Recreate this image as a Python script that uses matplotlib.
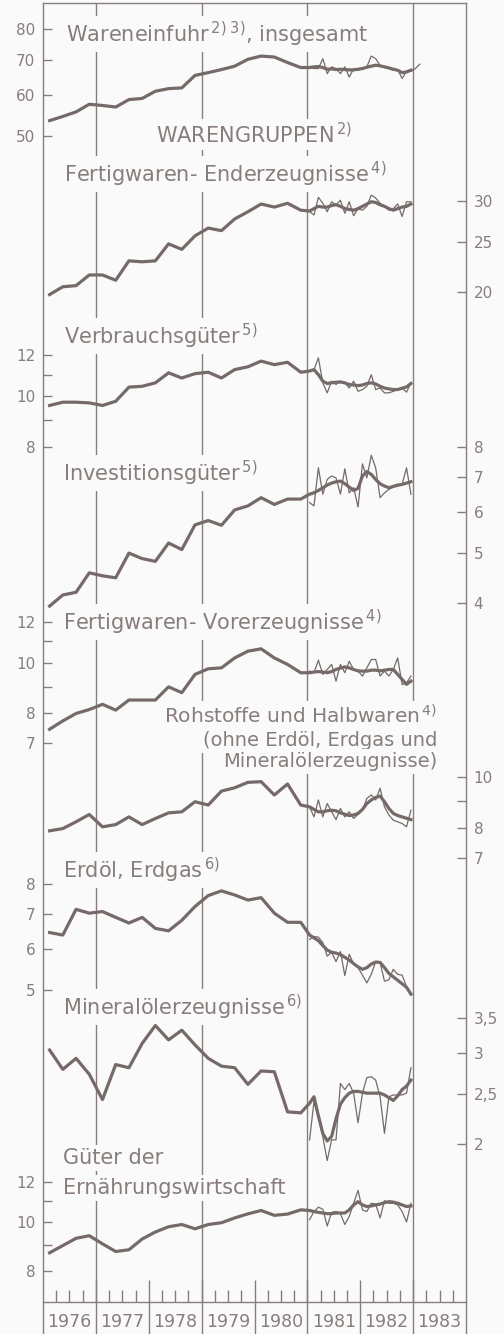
import numpy as np
import matplotlib
matplotlib.use("Agg")
import matplotlib.pyplot as plt
from matplotlib.ticker import FixedLocator, FixedFormatter, NullFormatter

# ---- data (log scale index values) ----
years = [1976, 1977, 1978, 1979, 1980, 1981, 1982, 1983]

# quarterly values 1976 Q1 ... 1980 Q4 (thick line)
q_total = [53.5, 54.5, 55.6, 57.5, 57.2, 56.8, 58.7, 59.0, 60.9, 61.6,
           61.8, 65.3, 66.1, 67.0, 68.0, 70.1, 71.1, 70.8, 69.1, 67.6]
q_endp = [19.8, 20.5, 20.6, 21.6, 21.6, 21.1, 23.0, 22.9, 23.0, 24.8,
          24.2, 25.7, 26.6, 26.3, 27.7, 28.6, 29.6, 29.2, 29.7, 28.8]
q_cons = [9.60, 9.74, 9.74, 9.71, 9.60, 9.78, 10.41, 10.45, 10.61, 11.09,
          10.84, 11.05, 11.12, 10.84, 11.25, 11.39, 11.68, 11.50, 11.62, 11.12]
q_inv = [3.94, 4.14, 4.19, 4.57, 4.51, 4.47, 4.99, 4.87, 4.81, 5.22,
         5.07, 5.66, 5.77, 5.65, 6.05, 6.16, 6.39, 6.20, 6.35, 6.35]
q_inter = [7.45, 7.73, 7.99, 8.13, 8.32, 8.11, 8.48, 8.48, 8.48, 8.99,
           8.76, 9.50, 9.74, 9.78, 10.22, 10.53, 10.64, 10.22, 9.93, 9.57]
q_raw = [7.90, 7.98, 8.22, 8.49, 8.04, 8.12, 8.40, 8.12, 8.34, 8.55,
         8.59, 8.98, 8.85, 9.41, 9.55, 9.78, 9.81, 9.25, 9.71, 8.85]
q_oil = [6.45, 6.38, 7.15, 7.03, 7.08, 6.90, 6.73, 6.90, 6.57, 6.50,
         6.81, 7.24, 7.60, 7.76, 7.62, 7.45, 7.53, 7.03, 6.75, 6.75]
q_petro = [3.04, 2.79, 2.93, 2.73, 2.44, 2.85, 2.81, 3.13, 3.39, 3.18,
           3.32, 3.11, 2.93, 2.83, 2.81, 2.61, 2.77, 2.76, 2.31, 2.30]
q_food = [8.69, 8.98, 9.28, 9.39, 9.05, 8.74, 8.81, 9.25, 9.55, 9.78,
          9.88, 9.69, 9.88, 9.96, 10.18, 10.37, 10.53, 10.30, 10.36, 10.56]

# monthly 1981-1982: smoothed (thick) and single months (thin)
m_total = [67.6, 67.8, 67.9, 67.6, 67.1, 67.2, 67.0, 67.1, 67.0, 66.9, 66.9, 67.1,
           67.3, 67.7, 68.0, 68.3, 68.1, 67.8, 67.5, 67.1, 66.8, 66.1, 66.3, 66.8]
t_total = [67.8, 67.3, 67.3, 70.3, 65.8, 67.8, 67.3, 65.8, 67.8, 64.8, 67.3, 66.8,
           67.3, 67.8, 71.1, 70.3, 68.3, 67.8, 67.3, 66.8, 67.0, 64.4, 66.5, 66.5,
           67.3, 68.6]  # runs into Feb 1983
m_endp = [28.7, 29.0, 29.3, 29.2, 29.2, 29.4, 29.5, 29.3, 29.0, 28.9, 28.8, 29.0,
          29.3, 29.6, 29.9, 29.8, 29.5, 29.3, 29.0, 28.8, 29.0, 29.2, 29.3, 29.6]
t_endp = [28.6, 28.2, 30.5, 29.7, 28.6, 29.9, 29.5, 30.1, 28.4, 29.9, 28.1, 29.0,
          28.8, 29.3, 30.8, 30.4, 29.7, 29.3, 28.8, 29.0, 29.6, 28.0, 29.9, 29.9]
m_cons = [11.18, 11.25, 11.0, 10.69, 10.58, 10.61, 10.64, 10.65, 10.61, 10.53, 10.51, 10.48,
          10.51, 10.58, 10.61, 10.56, 10.45, 10.37, 10.33, 10.30, 10.30, 10.36, 10.42, 10.58]
t_cons = [11.17, 11.25, 11.85, 10.61, 10.15, 10.69, 10.53, 10.69, 10.61, 10.37, 10.69, 10.22,
          10.30, 10.45, 11.0, 10.30, 10.37, 10.15, 10.15, 10.22, 10.30, 10.37, 10.18, 10.61]
m_inv = [6.49, 6.53, 6.60, 6.68, 6.76, 6.82, 6.86, 6.88, 6.80, 6.70, 6.60, 6.66,
         7.04, 7.18, 7.09, 6.93, 6.80, 6.73, 6.68, 6.72, 6.76, 6.78, 6.82, 6.86]
t_inv = [6.25, 6.16, 7.30, 6.49, 6.93, 7.04, 6.98, 6.49, 7.27, 6.53, 6.68, 6.13,
         7.43, 6.98, 7.72, 7.30, 6.39, 6.53, 6.63, 6.70, 6.73, 6.78, 7.30, 6.49]
m_inter = [9.57, 9.60, 9.62, 9.60, 9.57, 9.62, 9.71, 9.77, 9.82, 9.78, 9.71, 9.65,
           9.64, 9.64, 9.68, 9.68, 9.65, 9.68, 9.71, 9.71, 9.50, 9.29, 9.09, 9.22]
t_inter = [9.64, 9.57, 10.12, 9.50, 9.71, 9.93, 9.22, 9.93, 9.57, 10.07, 9.71, 9.64,
           9.43, 9.78, 10.15, 10.15, 9.43, 9.64, 9.43, 9.71, 10.22, 9.08, 9.15, 9.43]
m_raw = [8.78, 8.68, 8.59, 8.59, 8.63, 8.65, 8.63, 8.55, 8.50, 8.45, 8.47, 8.53,
         8.68, 8.91, 9.05, 9.15, 9.21, 8.98, 8.72, 8.53, 8.45, 8.40, 8.35, 8.30]
t_raw = [8.78, 8.40, 9.05, 8.40, 8.91, 8.59, 8.30, 8.72, 8.40, 8.59, 8.34, 8.50,
         8.65, 9.11, 9.25, 9.05, 9.53, 8.78, 8.47, 8.28, 8.22, 8.16, 8.04, 8.65]
m_oil = [6.38, 6.30, 6.22, 6.09, 5.97, 5.91, 5.89, 5.85, 5.78, 5.71, 5.62, 5.54,
         5.48, 5.52, 5.61, 5.66, 5.65, 5.52, 5.38, 5.30, 5.22, 5.14, 5.06, 4.91]
t_oil = [6.26, 6.34, 6.32, 6.17, 5.81, 5.91, 5.67, 5.93, 5.33, 5.86, 5.61, 5.52,
         5.34, 5.16, 5.36, 5.67, 5.65, 5.20, 5.23, 5.48, 5.36, 5.34, 5.08, 4.89]
m_petro = [2.40, 2.47, 2.27, 2.10, 2.03, 2.07, 2.24, 2.39, 2.46, 2.51, 2.53, 2.53,
           2.52, 2.51, 2.51, 2.51, 2.51, 2.49, 2.46, 2.43, 2.48, 2.55, 2.59, 2.66]
t_petro = [2.04, 2.42, 2.25, 2.07, 1.86, 2.04, 2.04, 2.62, 2.55, 2.62, 2.51, 2.20,
           2.51, 2.69, 2.70, 2.66, 2.47, 2.10, 2.47, 2.49, 2.49, 2.49, 2.51, 2.81]
m_food = [10.53, 10.48, 10.44, 10.41, 10.38, 10.38, 10.41, 10.41, 10.41, 10.56, 10.80, 10.96,
          10.80, 10.72, 10.75, 10.80, 10.84, 10.91, 10.96, 10.94, 10.88, 10.80, 10.72, 10.75]
t_food = [10.10, 10.48, 10.69, 10.59, 9.81, 10.44, 10.48, 10.38, 9.88, 10.25, 10.88, 11.54,
          10.56, 10.48, 10.88, 10.84, 10.18, 11.01, 10.88, 10.88, 10.80, 10.48, 9.99, 10.88]

# axis ticks per panel (labelled, unlabelled)
ticks_total, minor_total = [50, 60, 70, 80], []
ticks_endp, minor_endp = [20, 25, 30], []
ticks_cons, minor_cons = [8, 10, 12], [9, 11]
ticks_inv, minor_inv = [4, 5, 6, 7, 8], []
ticks_inter, minor_inter = [7, 8, 10, 12], [9, 11]
ticks_raw, minor_raw = [7, 8, 10], [9]
ticks_oil, minor_oil = [5, 6, 7, 8], []
ticks_petro, minor_petro = [2, 2.5, 3, 3.5], []
ticks_food, minor_food = [8, 10, 12], [9, 11]

# ---- layout (pixels of the 504x1334 picture) ----
W, H = 504.0, 1334.0
LEFT, RIGHT, TOP, BOTTOM = 43, 466, 3, 1302
BG = "#fafafb"
INK = "#877d7b"
LINE = "#756a68"

panels = [
    (q_total, m_total, t_total, ticks_total, minor_total, "left", ((80, 29.3), (50, 136.0))),
    (q_endp, m_endp, t_endp, ticks_endp, minor_endp, "right", ((30, 201.0), (20, 292.3))),
    (q_cons, m_cons, t_cons, ticks_cons, minor_cons, "left", ((12, 355.0), (8, 446.7))),
    (q_inv, m_inv, t_inv, ticks_inv, minor_inv, "right", ((8, 447.3), (4, 602.7))),
    (q_inter, m_inter, t_inter, ticks_inter, minor_inter, "left", ((12, 621.7), (7, 743.3))),
    (q_raw, m_raw, t_raw, ticks_raw, minor_raw, "right", ((10, 777.3), (7, 858.3))),
    (q_oil, m_oil, t_oil, ticks_oil, minor_oil, "left", ((8, 884.0), (5, 990.0))),
    (q_petro, m_petro, t_petro, ticks_petro, minor_petro, "right", ((3.5, 1018.3), (2, 1144.3))),
    (q_food, m_food, t_food, ticks_food, minor_food, "left", ((12, 1181.7), (8, 1271.0))),
]

# text, x, baseline y, alignment, size
labels = [
    (r"Wareneinfuhr$^{\,2)\;3)}$, insgesamt", 66, 42, "left", 15),
    (r"WARENGRUPPEN$^{\,2)}$", 254, 143, "center", 15),
    (r"Fertigwaren- Enderzeugnisse$^{\,4)}$", 64, 182, "left", 15),
    (r"Verbrauchsgüter$^{\,5)}$", 64, 344, "left", 15),
    (r"Investitionsgüter$^{\,5)}$", 63, 481, "left", 15),
    (r"Fertigwaren- Vorerzeugnisse$^{\,4)}$", 63, 630, "left", 15),
    (r"Rohstoffe und Halbwaren$^{\,4)}$", 437, 723, "right", 14.5),
    ("(ohne Erdöl, Erdgas und", 437, 746, "right", 14),
    ("Mineralölerzeugnisse)", 437, 767, "right", 14),
    (r"Erdöl, Erdgas$^{\,6)}$", 63, 878, "left", 15),
    (r"Mineralölerzeugnisse$^{\,6)}$", 63, 1015, "left", 15),
    ("Güter der", 63, 1164, "left", 15),
    ("Ernährungswirtschaft", 63, 1194, "left", 15),
]

plt.rcParams["font.family"] = ["DejaVu Sans"]
plt.rcParams["mathtext.fontset"] = "dejavusans"

fig = plt.figure(figsize=(W / 100, H / 100), dpi=100, facecolor=BG)
rect = [LEFT / W, 1 - BOTTOM / H, (RIGHT - LEFT) / W, (BOTTOM - TOP) / H]

# frame, time axis and year grid
base = fig.add_axes(rect)
base.set_facecolor(BG)
base.set_xlim(1976, 1984)
base.set_ylim(0, 1)
base.set_yticks([])
for s in base.spines.values():
    s.set_color(INK)
    s.set_linewidth(1.0)
base.set_xticks(years[1:])
base.set_xticks([y + q / 4 for y in years for q in (1, 2, 3)], minor=True)
base.tick_params(axis="x", which="major", direction="in", length=16, width=1.0,
                 color=INK, labelbottom=False)
base.tick_params(axis="x", which="minor", direction="in", length=8.5, width=1.0, color=INK)
for yr in (1977, 1979, 1981, 1983):
    base.axvline(yr, color=INK, lw=1.0)
below = (BOTTOM - H) / (BOTTOM - TOP)
base.vlines(years + [1984], below, 0, color=INK, lw=1.0, clip_on=False)
for yr in years:
    base.text(yr + 0.5, (BOTTOM - 1322) / (BOTTOM - TOP), str(yr), ha="center",
              va="center", fontsize=12.5, color=INK, clip_on=False)

# series labels sit on the base axes: they mask the year lines but not the curves
for txt, x, y, ha, size in labels:
    base.text(x / W, 1 - y / H, txt, transform=fig.transFigure, ha=ha, va="baseline",
              fontsize=size, color=INK, zorder=5, clip_on=False,
              bbox=dict(boxstyle="square,pad=0.15", fc=BG, ec="none"))

qx = 1976 + (np.arange(20) + 0.5) / 4
mx = 1981 + (np.arange(26) + 0.5) / 12

for q, m, t, major, minor, side, ((v1, p1), (v2, p2)) in panels:
    ax = fig.add_axes(rect)
    ax.patch.set_visible(False)
    for s in ax.spines.values():
        s.set_visible(False)
    ax.set_xlim(1976, 1984)
    ax.set_xticks([])
    k = (np.log(v1) - np.log(v2)) / (p2 - p1)
    ax.set_yscale("log")
    ax.set_ylim(v1 * np.exp(k * (p1 - BOTTOM)), v1 * np.exp(k * (p1 - TOP)))
    ax.yaxis.set_major_locator(FixedLocator(major))
    ax.yaxis.set_major_formatter(FixedFormatter([f"{v:g}".replace(".", ",") for v in major]))
    ax.yaxis.set_minor_locator(FixedLocator(minor))
    ax.yaxis.set_minor_formatter(NullFormatter())
    if side == "right":
        ax.yaxis.tick_right()
    ax.tick_params(axis="y", which="both", direction="in", length=6.5, width=1.0,
                   color=INK, labelcolor=INK, labelsize=11, pad=5.5)
    ax.plot(mx[:len(t)], t, color=LINE, lw=0.9)
    ax.plot(np.r_[qx, mx[:len(m)]], np.r_[q, m], color=LINE, lw=2.3)

fig.savefig("out.png", dpi=100, facecolor=BG)
